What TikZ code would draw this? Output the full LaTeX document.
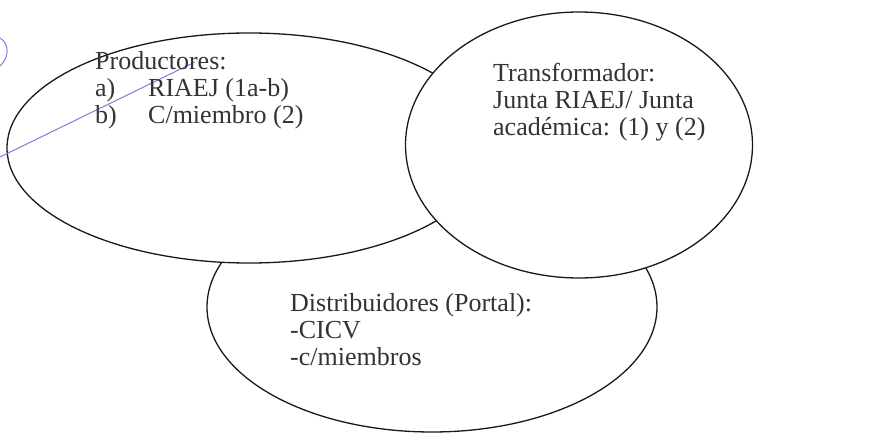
\documentclass[tikz,border=0pt]{standalone}
\usepackage{fontspec}
\setmainfont{Liberation Serif}
\usetikzlibrary{shapes.geometric}

\begin{document}
\begin{tikzpicture}[x=1pt, y=-1pt,
    oval/.style={ellipse, draw=black!90, line width=1.3pt, fill=white, inner sep=0pt},
    label/.style={anchor=west, align=left, inner sep=0pt, text=black!80,
        font=\fontsize{26}{27}\selectfont},
    pen/.style={draw=violet!45!blue!55!white, line width=1pt}]
    \useasboundingbox (0, 0) rectangle (892, 433);

    \node[oval, minimum width=450, minimum height=250] (dist) at (432, 307) {};
    \node[oval, minimum width=484, minimum height=230] (prod) at (249, 148) {};
    \node[oval, minimum width=347, minimum height=266] (trans) at (579, 145) {};

    \coordinate (p1) at (0, 157);
    \coordinate (p2) at (195, 62);
    \draw[pen] (p1) -- (p2);
    \draw[pen] (0, 38) .. controls (10, 44) and (9, 58) .. (0, 66);

    \node[label] (prodtext) at (95, 90)
        {Productores:\\ \makebox[53pt][l]{a)}RIAEJ (1a-b)\\ \makebox[53pt][l]{b)}C/miembro (2)};
    \node[label] (transtext) at (493, 102)
        {Transformador:\\ Junta RIAEJ/ Junta\\ académica: (1) y (2)};
    \node[label] (disttext) at (290, 330)
        {Distribuidores (Portal):\\ -CICV\\ -c/miembros};
\end{tikzpicture}
\end{document}
